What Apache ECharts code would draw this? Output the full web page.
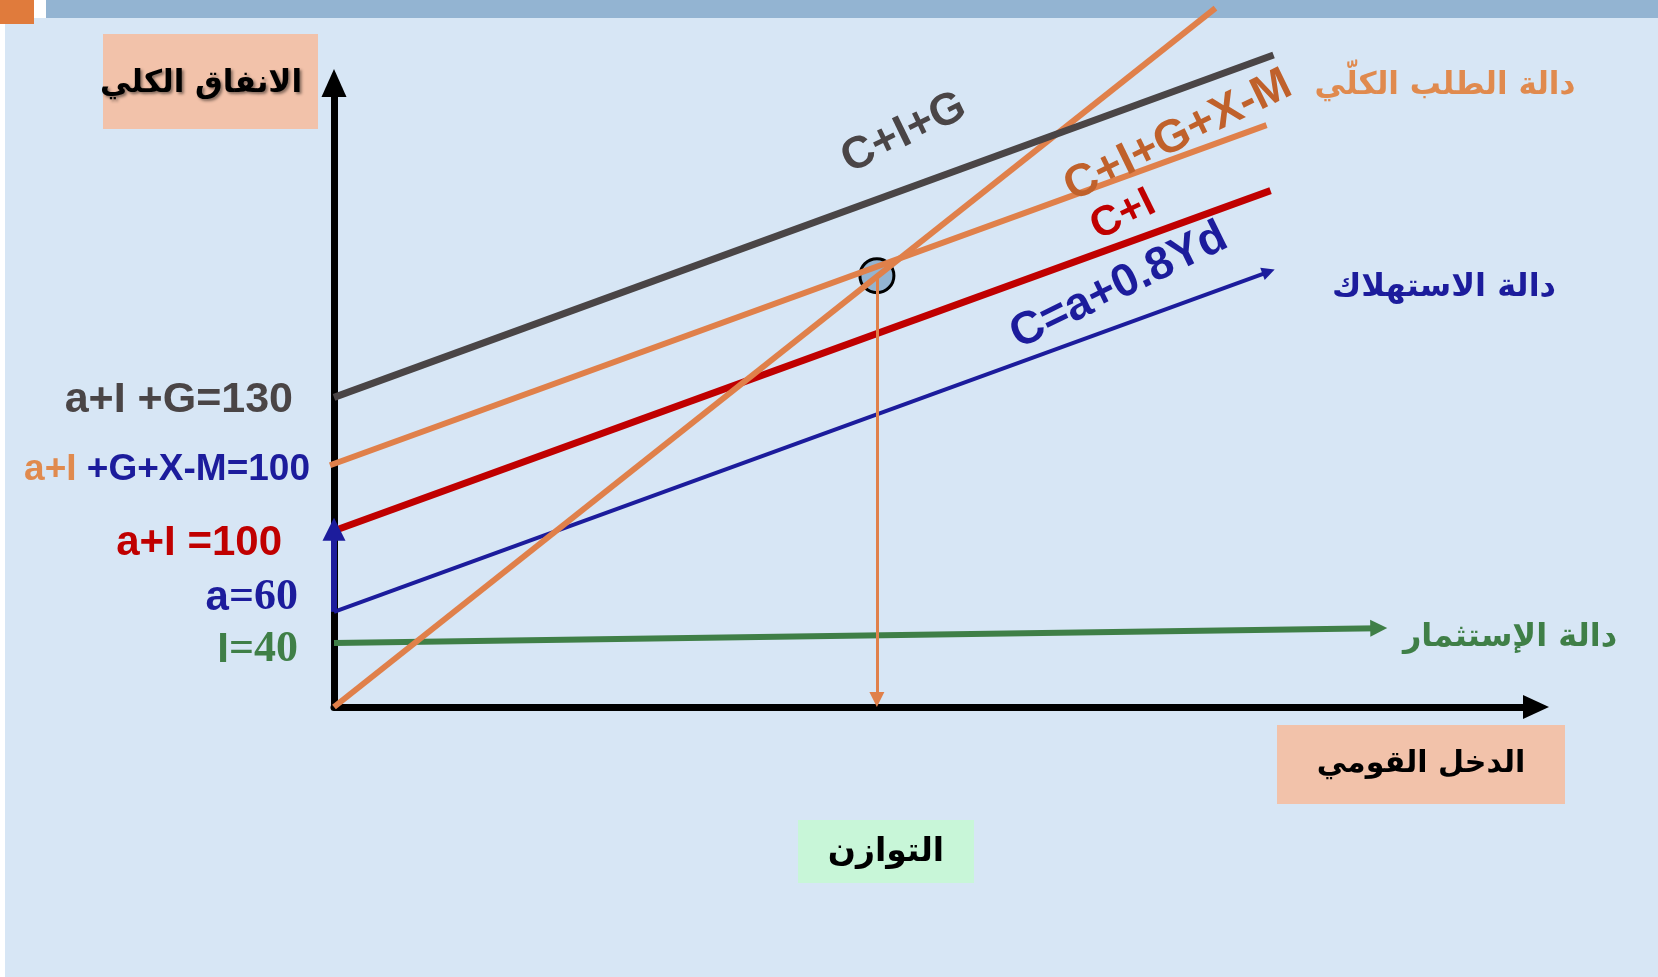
<!DOCTYPE html>
<html>
<head>
<meta charset="utf-8">
<script src="https://cdn.jsdelivr.net/npm/echarts@6/dist/echarts.min.js"></script>
<style>
  html, body { margin: 0; padding: 0; background: #fff; }
  #chart { width: 1658px; height: 977px; }
</style>
</head>
<body>
<div id="chart"></div>
<script>
// axis ranges (schematic units, income on x, spending on y)
const incomeRange = [0, 120]
const spendRange = [0, 80]

// lines, [income, spending]
const line45 = [[0, 0], [88, 89.6]]            // Y = AE
const lineCIG = [[0, 39.7], [93.8, 83.6]]      // C+I+G
const lineAD = [[-0.4, 31.0], [93.1, 74.6]]    // C+I+G+X-M
const lineCI = [[0, 22.6], [93.5, 66.2]]       // C+I
const lineC = [[0, 12.2], [93.3, 55.8]]        // C=a+0.8Yd
const lineI = [[0, 8.2], [104.3, 10.1]]        // I
const equilibrium = [54.2, 55.3]
const dropLine = [[54.2, 55.3], [54.2, 0.96]]
const investArrow = [[0, 12.2], [0, 22.8]]

// texts
const yTitle = 'الانفاق الكلي'
const xTitle = 'الدخل القومي'
const eqTitle = 'التوازن'
const adTitle = 'دالة الطلب الكلّي'
const cTitle = 'دالة الاستهلاك'
const iTitle = 'دالة الإستثمار'

const col = {
  gray: '#4a4546',
  orange: '#e0804a',
  brown: '#c0612b',
  red: '#c00000',
  blue: '#1c1c9c',
  green: '#3f7f47'
}

const SANS = '"Liberation Sans", Arial, sans-serif'
const SERIF = '"Liberation Serif", "Times New Roman", serif'
const AR = '"DejaVu Sans", sans-serif'
const ang = 26 * Math.PI / 180

function seg(name, coords, color, width, arrow, size) {
  return {
    name: name,
    type: 'lines',
    coordinateSystem: 'cartesian2d',
    clip: false,
    silent: true,
    symbol: arrow ? ['none', 'triangle'] : 'none',
    symbolSize: size || 12,
    lineStyle: { color: color, width: width, opacity: 1, curveness: 0 },
    data: [{ coords: coords }]
  }
}

function txt(x, y, text, color, font, extra) {
  return Object.assign({
    type: 'text', x: x, y: y, z: 20,
    style: {
      text: text, fill: color, font: font,
      align: 'center', verticalAlign: 'middle'
    }
  }, extra || {})
}

function box(x, y, w, h, fill) {
  return { type: 'rect', z: 15, shape: { x: x, y: y, width: w, height: h }, style: { fill: fill } }
}

const shadow = { textShadowColor: 'rgba(0,0,0,0.45)', textShadowBlur: 3, textShadowOffsetX: 2, textShadowOffsetY: 2 }

let chart = echarts.init(document.getElementById('chart'))

let option = {
  backgroundColor: '#d7e6f5',
  animation: false,
  grid: { left: 334, right: 122, top: 83, bottom: 270 },
  xAxis: {
    type: 'value', min: incomeRange[0], max: incomeRange[1],
    axisLine: { show: true, onZero: false, symbol: ['none', 'triangle'], symbolSize: [24, 26],
      lineStyle: { color: '#000', width: 7 } },
    axisTick: { show: false }, axisLabel: { show: false }, splitLine: { show: false }
  },
  yAxis: {
    type: 'value', min: spendRange[0], max: spendRange[1],
    axisLine: { show: true, onZero: false, symbol: ['none', 'triangle'], symbolSize: [25, 28],
      lineStyle: { color: '#000', width: 7 } },
    axisTick: { show: false }, axisLabel: { show: false }, splitLine: { show: false }
  },
  series: [
    {
      type: 'scatter', z: 1, silent: true,
      symbolSize: 34,
      itemStyle: { color: '#93b4d2', borderColor: '#000', borderWidth: 3, opacity: 1 },
      data: [equilibrium]
    },
    seg('I', lineI, col.green, 6, true, 17),
    seg('C', lineC, col.blue, 4, true, 13),
    seg('C+I', lineCI, col.red, 7),
    seg('45', line45, col.orange, 6),
    seg('C+I+G+X-M', lineAD, col.orange, 6),
    seg('C+I+G', lineCIG, col.gray, 7),
    seg('a', investArrow, col.blue, 6, true, 23),
    seg('eq', dropLine, col.orange, 3, true, 15)
  ],
  graphic: {
    elements: [
      // top strip
      { type: 'rect', shape: { x: 0, y: 0, width: 1658, height: 18 }, style: { fill: '#fff' } },
      { type: 'rect', shape: { x: 0, y: 0, width: 5, height: 977 }, style: { fill: '#fff' } },
      { type: 'rect', shape: { x: 0, y: 0, width: 34, height: 24 }, style: { fill: '#e07b3c' } },
      { type: 'rect', shape: { x: 46, y: 0, width: 1612, height: 18 }, style: { fill: '#93b4d2' } },

      // axis titles
      box(103, 34, 215, 95, '#f2c2aa'),
      { type: 'text', x: 201, y: 84, z: 20, style: Object.assign({ text: yTitle, fill: '#000', font: 'bold 31px ' + AR, align: 'center', verticalAlign: 'middle' }, shadow) },
      box(1277, 725, 288, 79, '#f2c2aa'),
      txt(1421, 764, xTitle, '#000', 'bold 30px ' + AR),
      box(798, 820, 176, 63, '#c8f6d8'),
      txt(886, 852, eqTitle, '#000', 'bold 33px ' + AR),

      // function names on the right
      txt(1445, 86, adTitle, '#e08a4e', 'bold 31px ' + AR),
      txt(1444, 288, cTitle, col.blue, 'bold 32px ' + AR),
      txt(1510, 638, iTitle, col.green, 'bold 32px ' + AR),

      // line labels
      txt(904, 133, 'C+I+G', col.gray, 'bold 45px ' + SANS, { rotation: ang }),
      txt(1178, 136, 'C+I+G+X-M', col.brown, 'bold 46px ' + SANS, { rotation: ang }),
      txt(1123, 215, 'C+I', col.red, 'bold 42px ' + SANS, { rotation: ang }),
      txt(1119, 286, 'C=a+0.8Yd', col.blue, 'bold 46px ' + SANS, { rotation: ang }),

      // intercept labels
      { type: 'text', x: 293, y: 400, z: 20, style: { text: 'a+I +G=130', fill: col.gray, font: 'bold 43px ' + SANS, align: 'right', verticalAlign: 'middle' } },
      { type: 'text', x: 310, y: 470, z: 20, style: {
        text: '{o|a+I} {b|+G+X-M=100}', align: 'right', verticalAlign: 'middle', font: 'bold 37px ' + SANS,
        rich: { o: { fill: '#e08a4e', font: 'bold 37px ' + SANS }, b: { fill: col.blue, font: 'bold 37px ' + SANS } } } },
      { type: 'text', x: 282, y: 543, z: 20, style: { text: 'a+I =100', fill: col.red, font: 'bold 42px ' + SANS, align: 'right', verticalAlign: 'middle' } },
      { type: 'text', x: 298, y: 598, z: 20, style: {
        text: '{s|a}{t|=60}', align: 'right', verticalAlign: 'middle',
        rich: { s: { fill: col.blue, font: 'bold 42px ' + SANS }, t: { fill: col.blue, font: 'bold 44px ' + SERIF } } } },
      { type: 'text', x: 298, y: 650, z: 20, style: {
        text: '{s|I}{t|=40}', align: 'right', verticalAlign: 'middle',
        rich: { s: { fill: col.green, font: 'bold 42px ' + SANS }, t: { fill: col.green, font: 'bold 44px ' + SERIF } } } }
    ]
  }
}

chart.setOption(option)
</script>
</body>
</html>
